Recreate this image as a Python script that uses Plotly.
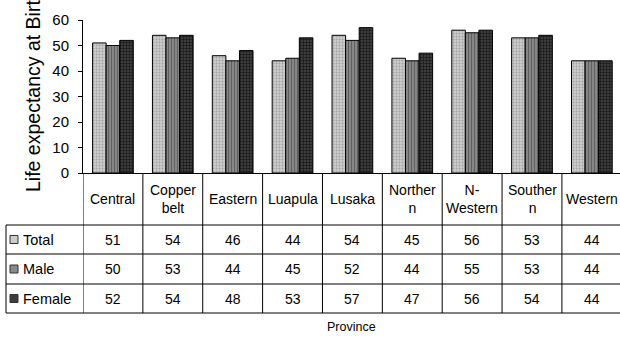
import plotly.graph_objects as go

provinces = ["Central", "Copper belt", "Eastern", "Luapula", "Lusaka", "Northern", "N-Western", "Southern", "Western"]
header_labels = ["Central", "Copper<br>belt", "Eastern", "Luapula", "Lusaka", "Norther<br>n", "N-<br>Western", "Souther<br>n", "Western"]
total = [51, 54, 46, 44, 54, 45, 56, 53, 44]
male = [50, 53, 44, 45, 52, 44, 55, 53, 44]
female = [52, 54, 48, 53, 57, 47, 56, 54, 44]
series_names = ["Total", "Male", "Female"]
y_ticks = [0, 10, 20, 30, 40, 50, 60]

FONT = "Arial, Liberation Sans, sans-serif"
W, H = 620, 338
L, T, B_PX = 83, 20, 173  # plot area left, top, bottom (px)
PW = W - L
PH = B_PX - T

def py(y):
    return (B_PX - y) / PH

def px(x):
    return (x - L) / PW

styles = [
    dict(bg="#cccccc", fg="#a0a0a0", shape=".", size=3, sol=0.3),
    dict(bg="#8a8a8a", fg="#606060", shape="|", size=3, sol=0.4),
    dict(bg="#3c3c3c", fg="#151515", shape="+", size=3, sol=0.35),
]

fig = go.Figure()
for name, vals, st in zip(series_names, [total, male, female], styles):
    fig.add_trace(go.Bar(
        x=list(range(len(provinces))), y=vals, name=name,
        marker=dict(color=st["bg"], line=dict(color="black", width=1),
                    pattern=dict(shape=st["shape"], bgcolor=st["bg"], fgcolor=st["fg"],
                                 size=st["size"], solidity=st["sol"], fillmode="replace")),
        showlegend=False, hoverinfo="skip",
    ))

shapes = []
line = dict(color="black", width=1)
# vertical table lines at category boundaries
for i in range(len(provinces) + 1):
    shapes.append(dict(type="line", xref="x", yref="paper", x0=i - 0.5, x1=i - 0.5,
                       y0=py(313), y1=0, line=line))
# table left border
shapes.append(dict(type="line", xref="paper", yref="paper", x0=px(6), x1=px(6),
                   y0=py(313), y1=py(225), line=line))
# horizontal lines
for yy in [225, 254, 284, 313]:
    shapes.append(dict(type="line", xref="paper", yref="paper", x0=px(6), x1=1.0,
                       y0=py(yy), y1=py(yy), line=line))

annotations = []
# header labels
for i, lab in enumerate(header_labels):
    annotations.append(dict(x=i, y=py(199), xref="x", yref="paper", text=lab, showarrow=False,
                            font=dict(family=FONT, size=14, color="black"),
                            xanchor="center", yanchor="middle"))
row_centers = [239.5, 269, 298.5]
for r, (name, vals, st) in enumerate(zip(series_names, [total, male, female], styles)):
    yc = row_centers[r]
    for i, v in enumerate(vals):
        annotations.append(dict(x=i, y=py(yc), xref="x", yref="paper", text=str(v), showarrow=False,
                                font=dict(family=FONT, size=14, color="black"),
                                xanchor="center", yanchor="middle"))
    annotations.append(dict(x=px(21), y=py(yc), xref="paper", yref="paper", text=name, showarrow=False,
                            font=dict(family=FONT, size=14.5, color="black"),
                            xanchor="left", yanchor="middle"))
    shapes.append(dict(type="rect", xref="paper", yref="paper", x0=px(10), x1=px(18),
                       y0=py(yc + 4), y1=py(yc - 4), fillcolor=st["bg"],
                       line=dict(color="#333333", width=1)))

annotations.append(dict(x=0.5, y=py(327), xref="paper", yref="paper", text="Province", showarrow=False,
                        font=dict(family=FONT, size=12.5, color="black"),
                        xanchor="center", yanchor="middle"))
annotations.append(dict(x=px(33), y=py(91), xref="paper", yref="paper", text="Life expectancy at Birth",
                        showarrow=False, textangle=-90,
                        font=dict(family=FONT, size=19.5, color="black"),
                        xanchor="center", yanchor="middle"))

fig.update_layout(
    width=W, height=H,
    margin=dict(l=L, r=0, t=T, b=H - B_PX, pad=0),
    paper_bgcolor="white", plot_bgcolor="white",
    barmode="group", bargap=0.32, bargroupgap=0,
    font=dict(family=FONT, size=14, color="black"),
    xaxis=dict(range=[-0.5, 8.47], showticklabels=False, ticks="", showgrid=False,
               zeroline=False, showline=True, linecolor="black", linewidth=1),
    yaxis=dict(range=[0, 60], tickvals=y_ticks, ticks="outside", ticklen=4, tickcolor="black",
               showgrid=False, zeroline=False, showline=True, linecolor="black", linewidth=1,
               ticklabelstandoff=6,
               tickfont=dict(family=FONT, size=15, color="black")),
    shapes=shapes, annotations=annotations,
)

fig.write_html("out.html", config={"displayModeBar": False},
               post_script="document.body.style.margin='0';document.body.style.overflow='hidden';")
